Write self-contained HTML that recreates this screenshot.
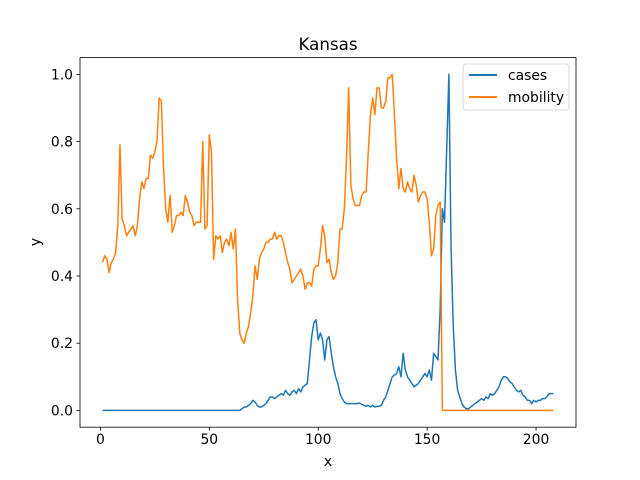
<!DOCTYPE html>
<html><head><meta charset="utf-8"><style>
body{margin:0;background:#fff;}
svg{display:block;font-family:"DejaVu Sans","Liberation Sans",sans-serif;}
</style></head><body>
<svg id="chart" width="640" height="480" xmlns="http://www.w3.org/2000/svg">
<rect width="640" height="480" fill="#fff"/>
<text x="328" y="50" font-size="16.7" text-anchor="middle">Kansas</text>
<g id="plot"></g>
<rect x="80" y="57.6" width="496" height="369.6" fill="none" stroke="#000" stroke-width="0.8"/>
<text x="328" y="466" font-size="13.9" text-anchor="middle">x</text>
<text x="40" y="242" font-size="13.9" text-anchor="middle" transform="rotate(-90 40 242)">y</text>
<g>
<rect x="463" y="64" width="106" height="46" rx="3" fill="#fff" fill-opacity="0.8" stroke="#ccc" stroke-width="0.8"/>
<line x1="469" y1="75" x2="497" y2="75" stroke="#1f77b4" stroke-width="2"/>
<text x="508" y="80" font-size="13.9">cases</text>
<line x1="469" y1="97" x2="497" y2="97" stroke="#ff7f0e" stroke-width="2"/>
<text x="508" y="102" font-size="13.9">mobility</text>
</g>
</svg>
<script>
const xTicks=[0,50,100,150,200];
const yTicks=[0,0.2,0.4,0.6,0.8,1.0];
const yTickLabels=["0.0","0.2","0.4","0.6","0.8","1.0"];
const casesX=[1,64,65,66,67,68,69,70,71,72,73,74,75,76,77,78,79,80,81,82,83,84,85,86,87,88,89,90,91,92,93,94,95,96,97,98,99,100,101,102,103,104,105,106,107,108,109,110,111,112,113,114,115,116,117,118,119,120,121,122,123,124,125,126,127,128,129,130,131,132,133,134,135,136,137,138,139,140,141,142,143,144,145,146,147,148,149,150,151,152,153,154,155,156,157,158,159,160,161,162,163,164,165,166,167,168,169,170,171,172,173,174,175,176,177,178,179,180,181,182,183,184,185,186,187,188,189,190,191,192,193,194,195,196,197,198,199,200,201,202,203,204,205,206,207,208];
const casesY=[0,0,0.005,0.01,0.01,0.015,0.02,0.03,0.025,0.015,0.01,0.01,0.015,0.02,0.03,0.04,0.04,0.035,0.04,0.045,0.05,0.045,0.06,0.05,0.045,0.055,0.06,0.05,0.065,0.055,0.07,0.075,0.08,0.15,0.22,0.26,0.27,0.21,0.23,0.21,0.15,0.21,0.22,0.17,0.13,0.1,0.08,0.05,0.035,0.025,0.02,0.02,0.02,0.02,0.02,0.02,0.022,0.018,0.015,0.012,0.015,0.01,0.015,0.01,0.012,0.012,0.015,0.03,0.04,0.06,0.08,0.1,0.105,0.11,0.13,0.1,0.17,0.12,0.1,0.09,0.08,0.07,0.075,0.08,0.09,0.1,0.11,0.1,0.12,0.09,0.17,0.16,0.15,0.3,0.6,0.56,0.78,1.0,0.48,0.25,0.12,0.06,0.04,0.02,0.01,0.005,0.005,0.01,0.015,0.02,0.025,0.03,0.035,0.03,0.04,0.035,0.05,0.045,0.05,0.06,0.07,0.09,0.1,0.1,0.095,0.085,0.08,0.07,0.06,0.055,0.06,0.045,0.04,0.03,0.03,0.02,0.03,0.025,0.03,0.03,0.035,0.035,0.04,0.05,0.05,0.05];
const mobX=[1,2,3,4,5,6,7,8,9,10,11,12,13,14,15,16,17,18,19,20,21,22,23,24,25,26,27,28,29,30,31,32,33,34,35,36,37,38,39,40,41,42,43,44,45,46,47,48,49,50,51,52,53,54,55,56,57,58,59,60,61,62,63,64,65,66,67,68,69,70,71,72,73,74,75,76,77,78,79,80,81,82,83,84,85,86,87,88,89,90,91,92,93,94,95,96,97,98,99,100,101,102,103,104,105,106,107,108,109,110,111,112,113,114,115,116,117,118,119,120,121,122,123,124,125,126,127,128,129,130,131,132,133,134,135,136,137,138,139,140,141,142,143,144,145,146,147,148,149,150,151,152,153,154,155,156,157,208];
const mobY=[0.44,0.46,0.45,0.41,0.44,0.45,0.47,0.55,0.79,0.57,0.55,0.52,0.53,0.54,0.55,0.52,0.55,0.63,0.68,0.66,0.69,0.69,0.76,0.75,0.77,0.8,0.93,0.92,0.72,0.6,0.56,0.64,0.53,0.55,0.58,0.58,0.59,0.58,0.64,0.62,0.59,0.58,0.55,0.56,0.56,0.56,0.8,0.54,0.55,0.82,0.77,0.45,0.52,0.51,0.52,0.47,0.5,0.51,0.49,0.53,0.48,0.54,0.33,0.23,0.21,0.2,0.23,0.25,0.29,0.34,0.43,0.39,0.45,0.47,0.48,0.5,0.5,0.51,0.51,0.53,0.51,0.52,0.52,0.5,0.47,0.44,0.42,0.38,0.39,0.4,0.41,0.42,0.4,0.36,0.38,0.38,0.37,0.42,0.43,0.43,0.48,0.55,0.52,0.44,0.45,0.41,0.39,0.4,0.44,0.54,0.54,0.6,0.75,0.96,0.67,0.63,0.61,0.61,0.61,0.64,0.65,0.65,0.77,0.88,0.93,0.88,0.96,0.96,0.9,0.9,0.92,0.99,0.99,1.0,0.88,0.75,0.66,0.72,0.66,0.65,0.68,0.66,0.65,0.7,0.67,0.62,0.64,0.65,0.65,0.63,0.56,0.46,0.48,0.58,0.61,0.62,0,0];
const NS="http://www.w3.org/2000/svg";
const L=80,R=576,T=57.6,B=427.2,xmin=-9.35,xmax=218.35,ymin=-0.05,ymax=1.05;
function sx(v){return L+(v-xmin)/(xmax-xmin)*(R-L);}
function sy(v){return B-(v-ymin)/(ymax-ymin)*(B-T);}
const g=document.getElementById('plot');
function mk(t,a){const e=document.createElementNS(NS,t);for(const k in a)e.setAttribute(k,a[k]);return e;}
xTicks.forEach(v=>{
 const l=mk('line',{x1:sx(v),x2:sx(v),y1:B,y2:B+3.5,stroke:'#000','stroke-width':0.8});
 
 
 g.appendChild(l);
 const t=mk('text',{x:sx(v),y:B+17,'font-size':13.9,'text-anchor':'middle'});
 
 
 t.textContent=String(v);g.appendChild(t);
});
yTicks.forEach((v,i)=>{
 const l=mk('line',{x1:L-3.5,x2:L,y1:sy(v),y2:sy(v),stroke:'#000','stroke-width':0.8});
 
 
 g.appendChild(l);
 const t=mk('text',{x:L-7,y:sy(v)+5,'font-size':13.9,'text-anchor':'end'});
 
 
 t.textContent=yTickLabels[i];g.appendChild(t);
});
function line(xs,ys,c,name){
 const n=Math.min(xs.length,ys.length);
 const pts=[];
 for(let i=0;i<n;i++)pts.push(sx(xs[i])+','+sy(ys[i]));
 const p=mk('polyline',{points:pts.join(' '),fill:'none',stroke:c,'stroke-width':1.5,'stroke-linejoin':'round'});
 
 
 g.appendChild(p);
}
line(casesX,casesY,'#1f77b4','cases-line');
line(mobX,mobY,'#ff7f0e','mobility-line');
</script>
</body></html>
